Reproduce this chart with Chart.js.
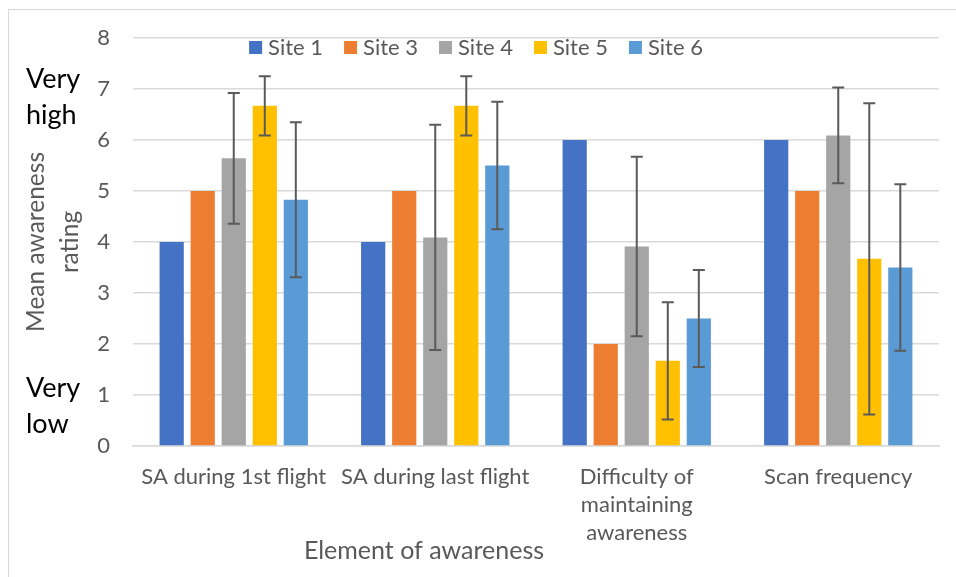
<!DOCTYPE html>
<html>
<head>
<meta charset="utf-8">
<script src="https://cdn.jsdelivr.net/npm/chart.js@4.4.1/dist/chart.umd.min.js"></script>
<style>
  html, body { margin: 0; padding: 0; background: #fff; }
  #wrap { position: relative; width: 956px; height: 577px; overflow: hidden; }
  #frame { position: absolute; left: 8px; top: 9px; width: 1000px; height: 600px; border: 1px solid #d9d9d9; }
  #awareChart { position: absolute; left: 0; top: 0; }
</style>
</head>
<body>
<div id="wrap">
  <div id="frame"></div>
  <canvas id="awareChart" width="956" height="577"></canvas>
</div>
<script>
// categories on the x axis
const categories = [
  'SA during 1st flight',
  'SA during last flight',
  ['Difficulty of', 'maintaining', 'awareness'],
  'Scan frequency'
];

// series
const siteNames = ['Site 1', 'Site 3', 'Site 4', 'Site 5', 'Site 6'];
const siteColors = ['#4472C4', '#ED7D31', '#A5A5A5', '#FFC000', '#5B9BD5'];

const site1 = [4, 4, 6, 6];
const site3 = [5, 5, 2, 5];
const site4 = [5.64, 4.09, 3.91, 6.09];
const site5 = [6.67, 6.67, 1.67, 3.67];
const site6 = [4.83, 5.5, 2.5, 3.5];

// +/- error for each bar (null = no error bar)
const site1Err = [null, null, null, null];
const site3Err = [null, null, null, null];
const site4Err = [1.28, 2.21, 1.76, 0.94];
const site5Err = [0.58, 0.58, 1.15, 3.05];
const site6Err = [1.52, 1.25, 0.95, 1.63];

// y axis ticks and labels
const yTicks = [0, 1, 2, 3, 4, 5, 6, 7, 8];
const yTitle = ['Mean awareness', 'rating'];
const xTitle = 'Element of awareness';
const highLabel = ['Very', 'high'];
const lowLabel = ['Very', 'low'];

const FONT = 'Lato, "Noto Sans", sans-serif';
const GRAY = '#595959';

const seriesValues = [site1, site3, site4, site5, site6];
const seriesErrors = [site1Err, site3Err, site4Err, site5Err, site6Err];

// error bars drawn on top of each bar
const errorBars = {
    id: 'errorBars',
    afterDatasetsDraw(chart) {
        const ctx = chart.ctx;
        const y = chart.scales.y;
        ctx.save();
        ctx.strokeStyle = '#5a5a5a';
        ctx.lineWidth = 2;
        chart.data.datasets.forEach((ds, di) => {
            const meta = chart.getDatasetMeta(di);
            meta.data.forEach((bar, i) => {
                const err = ds.errors[i];
                if (err == null) return;
                const v = ds.data[i];
                const top = y.getPixelForValue(v + err);
                const bot = y.getPixelForValue(v - err);
                const cap = 6;
                ctx.beginPath();
                ctx.moveTo(bar.x, top); ctx.lineTo(bar.x, bot);
                ctx.moveTo(bar.x - cap, top); ctx.lineTo(bar.x + cap, top);
                ctx.moveTo(bar.x - cap, bot); ctx.lineTo(bar.x + cap, bot);
                ctx.stroke();
            });
        });
        ctx.restore();
    }
};

// legend inside the plot, side labels and x title
const extras = {
    id: 'extras',
    afterDraw(chart) {
        const ctx = chart.ctx;
        const area = chart.chartArea;
        const y = chart.scales.y;
        ctx.save();

        // legend
        ctx.font = '22px ' + FONT;
        ctx.textBaseline = 'middle';
        ctx.textAlign = 'left';
        const box = 13, gap = 6, space = 21;
        const items = chart.data.datasets.map(ds => ({
            label: ds.label, color: ds.backgroundColor, w: ctx.measureText(ds.label).width
        }));
        let total = items.reduce((s, it) => s + box + gap + it.w, 0) + space * (items.length - 1);
        let lx = chart.width / 2 - total / 2 - 2;
        const ly = area.top + 9.5;
        items.forEach(it => {
            ctx.fillStyle = it.color;
            ctx.fillRect(lx, ly - box / 2, box, box);
            ctx.fillStyle = GRAY;
            ctx.fillText(it.label, lx + box + gap, ly);
            lx += box + gap + it.w + space;
        });

        // Very high / Very low
        ctx.font = '27px ' + FONT;
        ctx.fillStyle = '#000';
        const drawBlock = (lines, value, off) => {
            const c = y.getPixelForValue(value) + off;
            ctx.fillText(lines[0], 26, c - 18);
            ctx.fillText(lines[1], 26, c + 18);
        };
        drawBlock(highLabel, 7, 8);
        drawBlock(lowLabel, 1, 11);

        // x axis title
        ctx.font = '25px ' + FONT;
        ctx.fillStyle = GRAY;
        ctx.textAlign = 'center';
        ctx.fillText(xTitle, 424, 551);
        ctx.restore();
    }
};

const ctx = document.getElementById('awareChart').getContext('2d');
new Chart(ctx, {
    type: 'bar',
    data: {
        labels: categories,
        datasets: siteNames.map((name, i) => ({
            label: name,
            data: seriesValues[i],
            errors: seriesErrors[i],
            backgroundColor: siteColors[i],
            borderWidth: 0,
            categoryPercentage: 0.77,
            barPercentage: 0.78
        }))
    },
    options: {
        responsive: false,
        animation: false,
        layout: { padding: { left: 10, right: 17, top: 38, bottom: 30 } },
        plugins: {
            legend: { display: false },
            tooltip: { enabled: false }
        },
        scales: {
            x: {
                afterFit: s => { s.height = 101; },
                grid: { display: false, drawTicks: false },
                border: { color: '#d9d9d9', width: 1.5 },
                ticks: {
                    color: GRAY,
                    padding: 17,
                    maxRotation: 0,
                    autoSkip: false,
                    font: { family: FONT, size: 22, lineHeight: 1.28 }
                }
            },
            y: {
                min: 0,
                max: 8,
                afterFit: s => { s.width = 123; },
                afterBuildTicks: axis => { axis.ticks = yTicks.map(v => ({ value: v })); },
                grid: { color: '#d9d9d9', lineWidth: 1.5, drawTicks: false },
                border: { display: false },
                ticks: {
                    color: GRAY,
                    padding: 23,
                    font: { family: FONT, size: 22 }
                },
                title: {
                    display: true,
                    text: yTitle,
                    color: GRAY,
                    padding: { top: 9, bottom: 0 },
                    font: { family: FONT, size: 24.5, lineHeight: 1.4 }
                }
            }
        }
    },
    plugins: [errorBars, extras]
});
</script>
</body>
</html>
